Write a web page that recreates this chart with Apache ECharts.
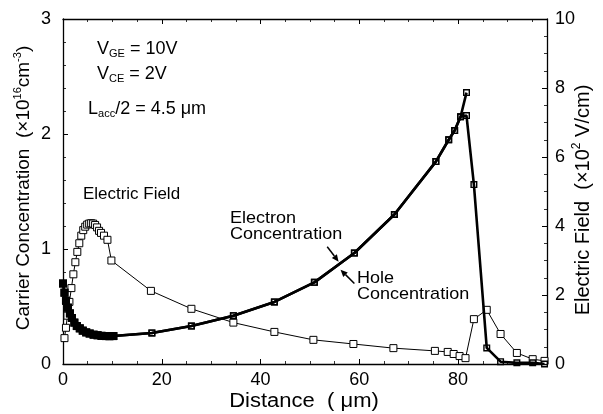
<!DOCTYPE html>
<html>
<head>
<meta charset="utf-8">
<script src="https://cdn.jsdelivr.net/npm/echarts@6/dist/echarts.min.js"></script>
<style>
  html, body { margin: 0; padding: 0; background: #fff; }
  #chart { width: 603px; height: 414px; }
</style>
</head>
<body>
<div id="chart"></div>
<script>
// Carrier concentration (x10^16 cm^-3) along the distance (um)
const concDist = [0, 0.3, 0.6, 1.0, 1.4, 1.8, 2.3, 2.8, 3.4, 4.0, 4.7, 5.4, 6.2, 7.0, 7.8, 8.6, 9.4, 10.2,
  18, 26, 34.5, 42.8, 50.9, 59, 67.1, 75.5, 78.1, 79.3, 80.5];
const electronConc = [0.70, 0.62, 0.55, 0.49, 0.44, 0.40, 0.36, 0.33, 0.31, 0.29, 0.275, 0.265, 0.255, 0.25, 0.245, 0.243, 0.242, 0.243,
  0.27, 0.33, 0.42, 0.54, 0.71, 0.965, 1.30, 1.76, 1.95, 2.03, 2.15];
const holeConc = [0.70, 0.62, 0.55, 0.49, 0.44, 0.40, 0.36, 0.33, 0.31, 0.29, 0.275, 0.265, 0.255, 0.25, 0.245, 0.243, 0.242, 0.243,
  0.27, 0.33, 0.42, 0.54, 0.71, 0.965, 1.30, 1.76, 1.95, 2.03, 2.15];
// collector-side ends of the two concentration profiles
const electronTailDist = [81.7];
const electronTail = [2.36];
const holeTailDist = [81.7, 83.2, 85.8, 88.6, 91.9, 95.1, 97.5];
const holeTail = [2.16, 1.56, 0.14, 0.02, 0.01, 0.01, 0.0];

// Electric field (x10^2 V/cm)
const fieldDist = [0.3, 0.6, 0.9, 1.3, 1.7, 2.1, 2.5, 2.9, 3.3, 3.7, 4.1, 4.5, 4.9, 5.3, 5.7, 6.1, 6.5, 6.9, 7.3, 7.7, 8.3, 9.0, 9.8,
  17.8, 26, 34.5, 42.8, 50.7, 58.8, 66.9, 75.3, 77.9, 79.1, 80.3, 81.5, 83.2, 85.8, 88.6, 91.9, 95.1, 97.5];
const fieldValue = [0.75, 1.05, 1.4, 1.8, 2.2, 2.6, 2.95, 3.25, 3.5, 3.72, 3.88, 3.98, 4.04, 4.07, 4.08, 4.07, 4.03, 3.96, 3.86, 3.8, 3.72, 3.6, 3.0,
  2.12, 1.6, 1.2, 0.93, 0.70, 0.58, 0.46, 0.38, 0.35, 0.29, 0.23, 0.17, 1.30, 1.57, 0.87, 0.32, 0.14, 0.09];

// Axis ranges and tick labels
const distRange = [0, 98];
const distTicks = [0, 20, 40, 60, 80];
const concRange = [0, 3];
const fieldRange = [0, 10];

const FONT = '"Liberation Sans", Arial, Helvetica, sans-serif';

// open square with a hollow centre, so the thick line shows through as a dot
const ringSquare = 'path://M0,0L10,0L10,10L0,10Z M2,2L2,8L8,8L8,2Z';
// closely spaced points near the emitter are drawn as solid squares
const denseLimit = 10.5;
const concPairs = (xs, ys) => xs.map((x, i) => (x <= denseLimit
  ? { value: [x, ys[i]], symbol: 'rect', symbolSize: 8 }
  : { value: [x, ys[i]] }));
const electronData = concPairs(concDist.concat(electronTailDist), electronConc.concat(electronTail));
const holeData = concPairs(concDist.concat(holeTailDist), holeConc.concat(holeTail));
const fieldData = fieldDist.map((x, i) => [x, fieldValue[i]]);

const chart = echarts.init(document.getElementById('chart'), null, { renderer: 'canvas' });

const axisLine = { show: true, onZero: false, lineStyle: { color: '#000', width: 1.3 } };
const axisTick = { show: true, inside: true, length: 5, lineStyle: { color: '#000', width: 1 } };
const minorTick = n => ({ show: true, splitNumber: n, length: 3, lineStyle: { color: '#000', width: 0.8 } });

const option = {
  animation: false,
  backgroundColor: '#fff',
  textStyle: { fontFamily: FONT },
  grid: { left: 63, right: 56, top: 19, bottom: 50, containLabel: false },
  xAxis: [
    {
      type: 'value', position: 'bottom', min: distRange[0], max: distRange[1], interval: 20,
      axisLine: axisLine, axisTick: axisTick, minorTick: minorTick(4), splitLine: { show: false },
      axisLabel: {
        color: '#000', fontSize: 18, fontFamily: FONT, margin: 7,
        showMaxLabel: false,
        formatter: v => (distTicks.indexOf(v) >= 0 ? String(v) : '')
      }
    },
    {
      type: 'value', position: 'top', min: distRange[0], max: distRange[1], interval: 20,
      axisLine: axisLine, axisTick: axisTick, minorTick: minorTick(4), splitLine: { show: false },
      axisLabel: { show: false }
    }
  ],
  yAxis: [
    {
      type: 'value', position: 'left', min: concRange[0], max: concRange[1], interval: 1,
      axisLine: axisLine, axisTick: axisTick, minorTick: minorTick(5), splitLine: { show: false },
      axisLabel: { color: '#000', fontSize: 18, fontFamily: FONT, margin: 12 }
    },
    {
      type: 'value', position: 'right', min: fieldRange[0], max: fieldRange[1], interval: 2,
      axisLine: axisLine, axisTick: axisTick, minorTick: minorTick(4), splitLine: { show: false },
      axisLabel: { color: '#000', fontSize: 18, fontFamily: FONT, margin: 8 }
    }
  ],
  series: [
    {
      name: 'Electric Field', type: 'line', xAxisIndex: 0, yAxisIndex: 1, data: fieldData,
      symbol: 'rect', symbolSize: 7, showAllSymbol: true,
      lineStyle: { color: '#000', width: 1 },
      itemStyle: { color: '#fff', borderColor: '#000', borderWidth: 1 },
      z: 2
    },
    {
      name: 'Hole Concentration', type: 'line', xAxisIndex: 0, yAxisIndex: 0, data: holeData,
      symbol: ringSquare, symbolSize: 7, symbolKeepAspect: true, showAllSymbol: true,
      lineStyle: { color: '#000', width: 2.6 },
      itemStyle: { color: '#000' },
      z: 3
    },
    {
      name: 'Electron Concentration', type: 'line', xAxisIndex: 0, yAxisIndex: 0, data: electronData,
      symbol: ringSquare, symbolSize: 7, symbolKeepAspect: true, showAllSymbol: true,
      lineStyle: { color: '#000', width: 2.6 },
      itemStyle: { color: '#000' },
      z: 4
    }
  ]
};
chart.setOption(option);

// Annotation anchors in data units (distance, concentration)
const electronArrow = [[53.5, 1.02], [55.8, 0.89]];
const holeArrow = [[59.0, 0.70], [56.2, 0.82]];

function arrowGraphics(pts) {
  const p0 = chart.convertToPixel({ xAxisIndex: 0, yAxisIndex: 0 }, pts[0]);
  const p1 = chart.convertToPixel({ xAxisIndex: 0, yAxisIndex: 0 }, pts[1]);
  const ang = Math.atan2(p1[1] - p0[1], p1[0] - p0[0]);
  const L = 7, W = 3.2;
  const bx = p1[0] - L * Math.cos(ang), by = p1[1] - L * Math.sin(ang);
  const nx = -Math.sin(ang), ny = Math.cos(ang);
  return [
    { type: 'line', shape: { x1: p0[0], y1: p0[1], x2: bx, y2: by }, style: { stroke: '#000', lineWidth: 1.5 } },
    { type: 'polygon', shape: { points: [[p1[0], p1[1]], [bx + nx * W, by + ny * W], [bx - nx * W, by - ny * W]] }, style: { fill: '#000' } }
  ];
}

const supRich = size => ({
  a: { fontSize: size, fontFamily: FONT, fill: '#000', color: '#000', lineHeight: size + 4 },
  s: { fontSize: Math.round(size * 0.6), fontFamily: FONT, fill: '#000', color: '#000', lineHeight: Math.round(size * 0.6), verticalAlign: 'top' }
});
const subRich = {
  a: { fontSize: 18, fontFamily: FONT, fill: '#000', color: '#000', lineHeight: 20 },
  b: { fontSize: 11, fontFamily: FONT, fill: '#000', color: '#000', lineHeight: 11, verticalAlign: 'bottom' }
};

const textEl = (x, y, text, size) => ({
  type: 'text', x: x, y: y, scaleX: 1.06,
  style: { text: text, fontSize: size, fontFamily: FONT, fill: '#000', textAlign: 'left', textVerticalAlign: 'top' }
});

chart.setOption({
  graphic: [
    // operating conditions
    { type: 'text', x: 97, y: 39, style: { text: '{a|V}{b|GE}{a| = 10V}', rich: subRich, fill: '#000' } },
    { type: 'text', x: 97, y: 64, style: { text: '{a|V}{b|CE}{a| = 2V}', rich: subRich, fill: '#000' } },
    { type: 'text', x: 88, y: 99, style: { text: '{a|L}{b|acc}{a|/2 = 4.5 μm}', rich: subRich, fill: '#000' } },
    // curve labels
    textEl(83, 187, 'Electric Field', 16),
    textEl(230, 210, 'Electron', 17),
    textEl(230, 226, 'Concentration', 17),
    textEl(357, 270, 'Hole', 17),
    textEl(357, 286, 'Concentration', 17),
    // axis titles
    { type: 'text', x: 304, y: 401, scaleX: 1.1,
      style: { text: 'Distance  ( μm)', fontSize: 20, fontFamily: FONT, fill: '#000', textAlign: 'center', textVerticalAlign: 'middle' } },
    { type: 'text', x: 24, y: 188, rotation: Math.PI / 2,
      style: { text: '{a|Carrier Concentration  (×10}{s|16}{a|cm}{s|-3}{a|)}', rich: supRich(19), fill: '#000', align: 'center', verticalAlign: 'middle', textAlign: 'center', textVerticalAlign: 'middle' } },
    { type: 'text', x: 583, y: 200, rotation: Math.PI / 2,
      style: { text: '{a|Electric Field  (×10}{s|2}{a| V/cm)}', rich: supRich(20), fill: '#000', align: 'center', verticalAlign: 'middle', textAlign: 'center', textVerticalAlign: 'middle' } }
  ].concat(arrowGraphics(electronArrow), arrowGraphics(holeArrow))
});
</script>
</body>
</html>
